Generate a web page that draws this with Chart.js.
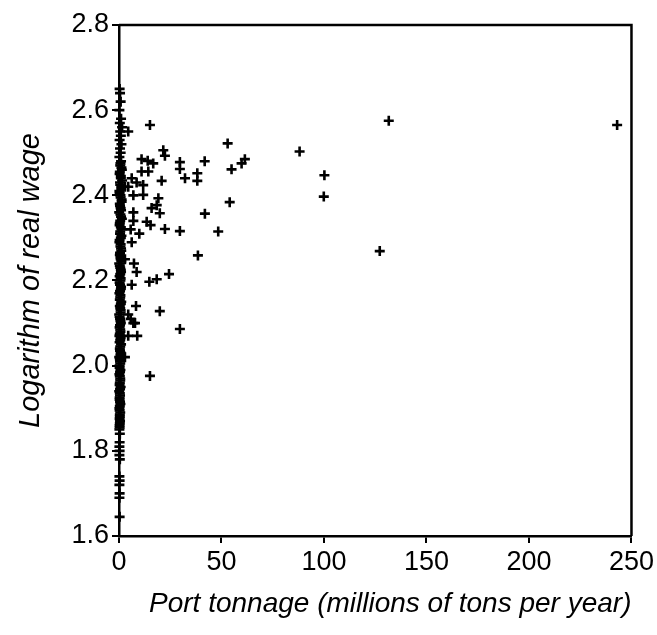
<!DOCTYPE html>
<html>
<head>
<meta charset="utf-8">
<script src="https://cdn.jsdelivr.net/npm/chart.js@4"></script>
<style>
html,body{margin:0;padding:0;background:#fff;}
#wrap{width:657px;height:635px;position:relative;}
</style>
</head>
<body>
<div id="wrap"><canvas id="c"></canvas></div>
<script>
// Port tonnage (millions of tons per year)
const portTonnage = [
  0.3,0.5,0.8,0.2,1.0,0.4,1.5,0.6,0.9,0.3,1.2,0.5,0.8,0.2,1.0,0.6,1.4,0.3,0.9,0.5,
  1.1,0.2,0.7,1.3,0.4,0.8,0.1,1.0,0.6,0.3,1.2,0.5,0.9,0.2,0.7,1.1,0.4,0.8,0.1,0.6,
  1.0,0.3,0.7,0.5,0.9,0.2,0.6,1.1,0.4,0.8,0.1,0.5,0.9,0.3,0.7,0.2,0.6,1.0,0.4,0.8,
  0.1,0.5,0.3,0.7,0.2,0.6,0.4,0.8,0.1,0.5,0.3,0.7,0.2,0.6,0.4,0.5,0.3,0.2,0.4,0.3,
  0.2,0.3,0.2,0.4,0.2,0.3,0.2,0.3,0.2,0.3,
  0.7,1.2,0.4,0.9,1.5,0.6,1.1,0.3,0.8,1.3,0.5,1.0,0.7,1.4,0.4,0.9,0.6,1.2,0.3,0.8,
  1.0,0.5,0.7,1.1,0.4,0.9,0.6,0.8,0.3,1.0,0.5,0.7,0.4,0.9,0.6,0.8,0.3,0.7,0.5,0.6,
  0.4,0.8,0.3,0.6,0.5,0.7,0.4,0.6,0.3,0.5,0.4,0.6,0.3,0.5,0.4,0.3,0.5,0.4,0.3,0.4,
  0.3,0.4,0.3,
  2.9,4.5,4.5,2.9,2.9,4.5,4.5,5.7,5.7,6.2,6.2,6.2,7.0,7.0,7.0,7.3,8.6,8.6,8.3,7.8,
  8.9,7.0,9.9,
  11.0,14.0,16.7,11.0,14.3,20.8,11.8,11.8,19.2,18.4,15.9,19.9,13.5,15.4,22.4,29.7,
  14.8,18.4,24.4,19.9,29.7,15.1,15.1,21.6,22.4,29.7,29.7,32.2,38.2,38.2,41.8,41.9,
  38.5,48.4,53.0,61.4,59.8,54.9,54.0,88.1,100.2,99.9,127.2,131.6,243.0
];
// Logarithm of real wage
const logRealWage = [
  2.65,2.64,2.62,2.60,2.58,2.57,2.56,2.55,2.54,2.53,2.52,2.51,2.50,2.49,2.48,2.47,2.46,2.45,2.44,2.43,
  2.42,2.41,2.40,2.39,2.38,2.37,2.36,2.35,2.34,2.33,2.32,2.31,2.30,2.29,2.28,2.27,2.26,2.25,2.24,2.23,
  2.22,2.21,2.20,2.19,2.18,2.17,2.16,2.15,2.14,2.13,2.12,2.11,2.10,2.09,2.08,2.07,2.06,2.05,2.04,2.03,
  2.02,2.01,2.00,1.99,1.98,1.97,1.96,1.95,1.94,1.93,1.92,1.91,1.90,1.89,1.88,1.87,1.86,1.85,1.84,1.82,
  1.81,1.80,1.79,1.78,1.74,1.73,1.72,1.70,1.69,1.645,
  2.475,2.465,2.455,2.445,2.435,2.425,2.415,2.405,2.395,2.385,2.375,2.365,2.355,2.345,2.335,2.325,2.315,2.305,2.295,2.285,
  2.275,2.265,2.255,2.245,2.235,2.225,2.215,2.205,2.195,2.185,2.175,2.165,2.155,2.145,2.135,2.125,2.115,2.105,2.095,2.085,
  2.075,2.065,2.055,2.045,2.035,2.025,2.015,2.005,1.995,1.985,1.975,1.965,1.955,1.945,1.935,1.925,1.915,1.905,1.895,1.885,
  1.875,1.865,1.855,
  2.42,2.55,2.42,2.25,2.02,2.12,2.07,2.11,2.32,2.29,2.44,2.19,2.40,2.36,2.34,2.24,2.43,2.22,2.14,2.10,
  2.07,2.10,2.31,
  2.485,2.481,2.475,2.456,2.456,2.434,2.424,2.401,2.393,2.377,2.370,2.358,2.338,2.330,2.321,2.316,
  2.197,2.203,2.215,2.128,2.086,1.976,2.565,2.506,2.493,2.478,2.462,2.440,2.452,2.434,2.480,2.357,
  2.259,2.315,2.522,2.485,2.475,2.461,2.384,2.503,2.447,2.397,2.269,2.575,2.565
];
const xTickStep = 50;
const yTickStep = 0.2;

const points = portTonnage.map((x, i) => ({x: x, y: logRealWage[i]}));

const FONT = "'Liberation Sans', Arial, sans-serif";

const frame = {
  id: 'frame',
  afterDraw(chart) {
    const a = chart.chartArea, ctx = chart.ctx;
    ctx.save();
    ctx.strokeStyle = '#000';
    ctx.lineWidth = 2.5;
    ctx.beginPath();
    ctx.moveTo(a.left, a.top);
    ctx.lineTo(a.right, a.top);
    ctx.lineTo(a.right, a.bottom);
    ctx.stroke();
    ctx.restore();
  }
};

new Chart(document.getElementById('c'), {
  type: 'scatter',
  data: {
    datasets: [{
      data: points,
      clip: false,
      pointStyle: 'cross',
      pointRadius: 5,
      pointBorderWidth: 2.6,
      borderColor: '#000',
      backgroundColor: '#000'
    }]
  },
  options: {
    responsive: true,
    maintainAspectRatio: false,
    animation: false,
    layout: {padding: {top: 25, right: 25, left: 0, bottom: 0}},
    plugins: {legend: {display: false}, tooltip: {enabled: false}},
    scales: {
      x: {
        type: 'linear', min: 0, max: 250,
        afterFit(s) { s.height = 99; },
        border: {display: true, color: '#000', width: 2.5},
        grid: {drawOnChartArea: false, drawTicks: true, tickLength: 7, color: '#000', lineWidth: 2},
        ticks: {stepSize: xTickStep, color: '#000', padding: 3, font: {family: FONT, size: 27}, maxRotation: 0},
        title: {display: true, text: 'Port tonnage (millions of tons per year)', align: 'end', color: '#000',
                font: {family: FONT, size: 28, style: 'italic'}, padding: {top: 14, bottom: 14}}
      },
      y: {
        type: 'linear', min: 1.6, max: 2.8,
        afterFit(s) { s.width = 119; },
        border: {display: true, color: '#000', width: 2.5},
        grid: {drawOnChartArea: false, drawTicks: true, tickLength: 7, color: '#000', lineWidth: 2},
        ticks: {stepSize: yTickStep, color: '#000', padding: 3, font: {family: FONT, size: 27},
                callback: v => Number(v).toFixed(1)},
        title: {display: true, text: 'Logarithm of real wage', color: '#000',
                font: {family: FONT, size: 29, style: 'italic'}, padding: {top: 14, bottom: 14}}
      }
    }
  },
  plugins: [frame]
});
</script>
</body>
</html>
